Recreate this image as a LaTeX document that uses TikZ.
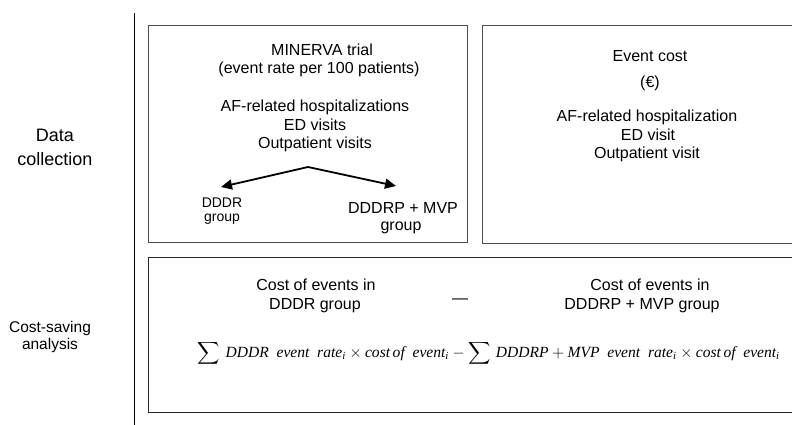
\documentclass[tikz,border=0pt]{standalone}
\usepackage{amsmath}
\usepackage[no-math]{fontspec}
\setmainfont{Liberation Sans}
\newfontfamily\formulafont{Liberation Serif}
\usepackage{graphicx}
\usetikzlibrary{arrows.meta}
\newcommand{\fw}[1]{\text{\formulafont\itshape #1}}
\tikzset{
  lbl/.style={anchor=base, inner sep=0pt, font=\fontsize{16}{18}\selectfont},
  sidelbl/.style={anchor=base, inner sep=0pt, font=\fontsize{18}{22}\selectfont},
  anlbl/.style={anchor=base, inner sep=0pt, font=\fontsize{15.5}{17}\selectfont},
  smalllbl/.style={anchor=base, inner sep=0pt, font=\fontsize{14}{14}\selectfont},
  panel/.style={draw=black!70, line width=1pt},
  panelb/.style={draw=black!85, line width=1pt},
  splitarrow/.style={line width=1.8pt, -{Triangle[length=11pt,width=10pt]}},
}
\begin{document}
\begin{tikzpicture}[x=1pt,y=-1pt]
\useasboundingbox (0,0) rectangle (792,425);
\clip (0,0) rectangle (792,425);

% separator
\coordinate (septop) at (134,13);
\coordinate (sepbot) at (134,425);
\draw[line width=1pt] (septop) -- (sepbot);

% row labels
\node[sidelbl] (dc1) at (55,142) {Data};
\node[sidelbl] (dc2) at (55,165) {collection};
\node[anlbl] (cs1) at (50,332) {Cost-saving};
\node[anlbl] (cs2) at (50,349) {analysis};

% panels
\draw[panel] (148,26) rectangle (467,242);
\draw[panel] (482,26) rectangle (800,243);
\draw[panelb] (148,257) rectangle (800,412);

% top-left panel
\node[lbl] (min1) at (322,56) {MINERVA trial};
\node[lbl] (min2) at (319,74) {(event rate per 100 patients)};
\node[lbl] (min3) at (315,112) {AF-related hospitalizations};
\node[lbl] (min4) at (315,131) {ED visits};
\node[lbl] (min5) at (315,149) {Outpatient visits};

\coordinate (apex) at (308,167);
\coordinate (tipL) at (221,187);
\coordinate (tipR) at (396,186);
\draw[splitarrow] (apex) -- (tipL);
\draw[splitarrow] (apex) -- (tipR);

\node[smalllbl] (g1a) at (222,207) {DDDR};
\node[smalllbl] (g1b) at (222,221) {group};
\node[lbl] (g2a) at (403,213) {DDDRP + MVP};
\node[lbl] (g2b) at (401,230) {group};

% top-right panel
\node[lbl] (ec1) at (650,62) {Event cost};
\node[lbl] (ec2) at (650,88) {(€)};
\node[lbl] (ec3) at (647,122) {AF-related hospitalization};
\node[lbl] (ec4) at (648,140) {ED visit};
\node[lbl] (ec5) at (647,158) {Outpatient visit};

% bottom panel
\node[lbl] (bl1) at (316,290) {Cost of events in};
\node[lbl] (bl2) at (315,309) {DDDR group};
\node[lbl] (dash) at (460,303) {—};
\node[lbl] (br1) at (650,290) {Cost of events in};
\node[lbl] (br2) at (642,309) {DDDRP + MVP group};

\node[inner sep=0pt, anchor=base] (formula) at (489,357) {\resizebox{582pt}{!}{$\displaystyle\sum\,\fw{DDDR}\enspace\fw{event}\enspace\fw{rate}_{\fw{i}}\times\fw{cost}\,\fw{of}\enspace\fw{event}_{\fw{i}}-\sum\,\fw{DDDRP}+\fw{MVP}\enspace\fw{event}\enspace\fw{rate}_{\fw{i}}\times\fw{cost}\,\fw{of}\enspace\fw{event}_{\fw{i}}$}};
\end{tikzpicture}
\end{document}
